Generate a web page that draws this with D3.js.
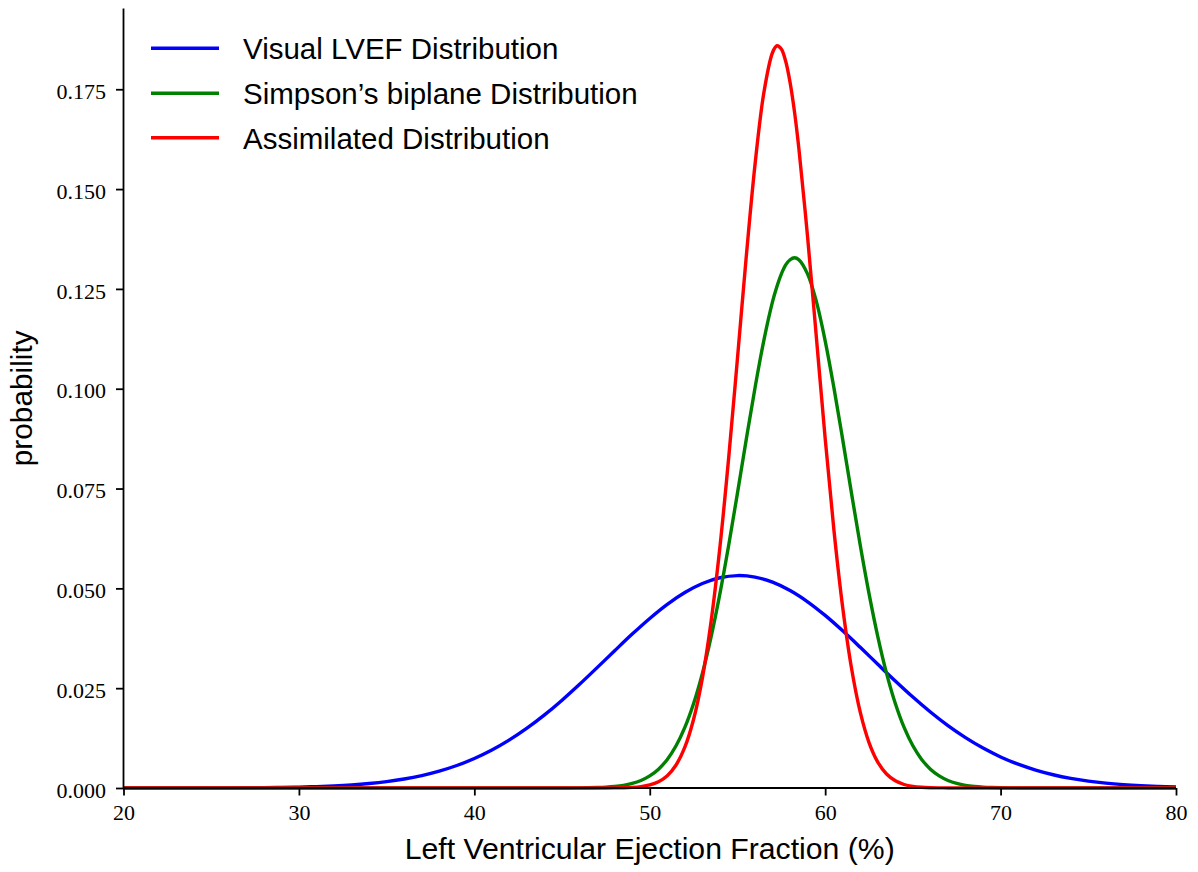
<!DOCTYPE html>
<html>
<head>
<meta charset="utf-8">
<script src="https://cdn.jsdelivr.net/npm/d3@7"></script>
<style>
  body { margin: 0; background: #fff; }
  svg { display: block; }
</style>
</head>
<body>
<svg id="chart" width="1198" height="872"></svg>
<script>
// ---------- data ----------
const seriesNames = ["Visual LVEF Distribution", "Simpson\u2019s biplane Distribution", "Assimilated Distribution"];
const seriesColors = ["#0000ff", "#008000", "#ff0000"];

const xTicks = [20, 30, 40, 50, 60, 70, 80];
const yTicks = [0, 0.025, 0.05, 0.075, 0.1, 0.125, 0.15, 0.175];
const yTickLabels = ["0.000", "0.025", "0.050", "0.075", "0.100", "0.125", "0.150", "0.175"];

// Visual LVEF distribution, sampled every 1 %
const blueX = [20,21,22,23,24,25,26,27,28,29,30,31,32,33,34,35,36,37,38,39,40,41,42,43,44,45,46,47,48,49,50,
               51,52,53,54,55,56,57,58,59,60,61,62,63,64,65,66,67,68,69,70,71,72,73,74,75,76,77,78,79,80];
const blueY = [0.000001,0.0000022,0.000004,0.0000071,0.0000123,0.0000209,0.0000349,0.0000572,0.0000922,0.000146,
               0.000228,0.000349,0.000525,0.000776,0.00113,0.00161,0.00226,0.00312,0.00423,0.00564,
               0.00739,0.00952,0.01204,0.01498,0.01831,0.02200,0.02598,0.03015,0.03438,0.03855,
               0.04247,0.04600,0.04895,0.05121,0.05265,0.05320,0.05283,0.05156,0.04946,0.04664,
               0.04322,0.03936,0.03523,0.03099,0.02680,0.02277,0.01902,0.01561,0.01260,0.00999,
               0.00778,0.00596,0.00449,0.00332,0.00241,0.00173,0.00121,0.000837,0.000568,0.000379,0.000248];

// Simpson's biplane and assimilated distributions, sampled finely around the peaks
const narrowX = [20,30,40,42,44,
  45,45.5,46,46.5,47,47.5,48,48.5,49,49.5,50,50.5,51,51.5,52,52.5,53,53.5,54,54.5,55,55.5,56,56.5,57,57.25,57.5,57.75,58,
  58.25,58.5,59,59.5,60,60.5,61,61.5,62,62.5,63,63.5,64,64.5,65,65.5,66,66.5,67,67.5,68,68.5,69,69.5,70,70.5,71,71.5,72,
  74,76,80];
const greenY = [0,0,0,0,0.000002,
  0.0000077,0.0000159,0.0000318,0.0000619,0.000117,0.000216,0.000388,0.000676,0.00115,0.00189,0.00303,0.00472,
  0.00716,0.01057,0.01517,0.02116,0.02872,0.03793,0.04868,0.06080,0.07385,0.08725,0.1002,0.1120,0.1218,0.1256,0.1287,0.1310,0.1323,
  0.1328,0.1323,0.1287,0.1218,0.1120,0.1002,0.08725,0.07385,0.06080,0.04868,0.03793,0.02872,0.02116,0.01517,0.01057,0.00716,
  0.00472,0.00303,0.00189,0.00115,0.000676,0.000388,0.000216,0.000117,0.0000619,0.0000318,0.0000159,0.0000077,0.0000036,
  0,0,0];
const redY = [0,0,0,0,0,
  0,0,0,0.0000011,0.0000032,0.0000091,0.0000245,0.0000624,0.000151,0.000347,0.000757,0.00157,
  0.00308,0.00576,0.01021,0.01721,0.02753,0.04183,0.06036,0.08271,0.1076,0.1330,0.1561,0.1740,0.1842,0.1859,0.1851,0.1820,0.1767,
  0.1694,0.1602,0.1379,0.1128,0.08754,0.06455,0.04519,0.03004,0.01898,0.01138,0.00648,0.00351,0.00180,0.000877,0.000406,0.000179,
  0.0000747,0.0000296,0.0000111,0.0000040,0.0000014,0,0,0,0,0,0,0,0,
  0,0,0];

const xDomain = [20, 80];
const yDomain = [0, 0.1952];

// ---------- drawing ----------
const svg = d3.select("#chart");
const plotLeft = 123.5, plotRight = 1176, plotTop = 8.6, plotBottom = 788;

const x = d3.scaleLinear().domain(xDomain).range([plotLeft, plotRight]);
const y = d3.scaleLinear().domain(yDomain).range([plotBottom, plotTop]);

const series = [
  { name: seriesNames[0], color: seriesColors[0], pts: blueX.map((v, i) => [v, blueY[i]]) },
  { name: seriesNames[1], color: seriesColors[1], pts: narrowX.map((v, i) => [v, greenY[i]]) },
  { name: seriesNames[2], color: seriesColors[2], pts: narrowX.map((v, i) => [v, redY[i]]) }
];

const line = d3.line()
  .x(d => x(d[0]))
  .y(d => y(d[1]))
  .curve(d3.curveCatmullRom.alpha(0.5));

svg.append("g").selectAll("path")
  .data(series)
  .join("path")
  .attr("d", d => line(d.pts))
  .attr("fill", "none")
  .attr("stroke", d => d.color)
  .attr("stroke-width", 3.4)
  .attr("stroke-linejoin", "round")
  .attr("stroke-linecap", "butt");

// axes
const tickFont = "'Liberation Serif', 'Times New Roman', serif";
const labelFont = "'Liberation Sans', Arial, sans-serif";

const xAxis = d3.axisBottom(x).tickValues(xTicks).tickSize(7.5).tickPadding(9).tickFormat(d3.format("d"));
const gx = svg.append("g").attr("transform", `translate(0,${plotBottom})`).call(xAxis);
gx.select(".domain").attr("stroke", "#000").attr("stroke-width", 1.8)
  .attr("d", `M${plotLeft},0H${plotRight}`);
gx.selectAll(".tick line").attr("stroke", "#000").attr("stroke-width", 1.8);
gx.selectAll(".tick text").attr("font-family", tickFont).attr("font-size", 22).attr("fill", "#000");

const yAxis = d3.axisLeft(y).tickValues(yTicks).tickSize(7.5).tickPadding(10)
  .tickFormat((d, i) => yTickLabels[i]);
const gy = svg.append("g").attr("transform", `translate(${plotLeft},0)`).call(yAxis);
gy.select(".domain").attr("stroke", "#000").attr("stroke-width", 1.8)
  .attr("d", `M0,${plotBottom}V${plotTop}`);
gy.selectAll(".tick line").attr("stroke", "#000").attr("stroke-width", 1.8);
gy.selectAll(".tick text").attr("font-family", tickFont).attr("font-size", 22).attr("fill", "#000")
  .attr("dy", "0.42em");

// axis labels
svg.append("text")
  .attr("x", (plotLeft + plotRight) / 2).attr("y", 859)
  .attr("text-anchor", "middle")
  .attr("font-family", labelFont).attr("font-size", 30.2).attr("fill", "#000")
  .text("Left Ventricular Ejection Fraction (%)");

svg.append("text")
  .attr("transform", `translate(32,${(plotTop + plotBottom) / 2}) rotate(-90)`)
  .attr("text-anchor", "middle")
  .attr("font-family", labelFont).attr("font-size", 29.8).attr("fill", "#000")
  .text("probability");

// legend
const legendY = [48.3, 93.3, 137.7];
const lg = svg.append("g").selectAll("g")
  .data(series)
  .join("g")
  .attr("transform", (d, i) => `translate(0,${legendY[i]})`);
lg.append("line")
  .attr("x1", 151).attr("x2", 219).attr("y1", 0).attr("y2", 0)
  .attr("stroke", d => d.color).attr("stroke-width", 3.4);
lg.append("text")
  .attr("x", 243).attr("y", 11)
  .attr("font-family", labelFont).attr("font-size", 29.5).attr("fill", "#000")
  .text(d => d.name);
</script>
</body>
</html>
